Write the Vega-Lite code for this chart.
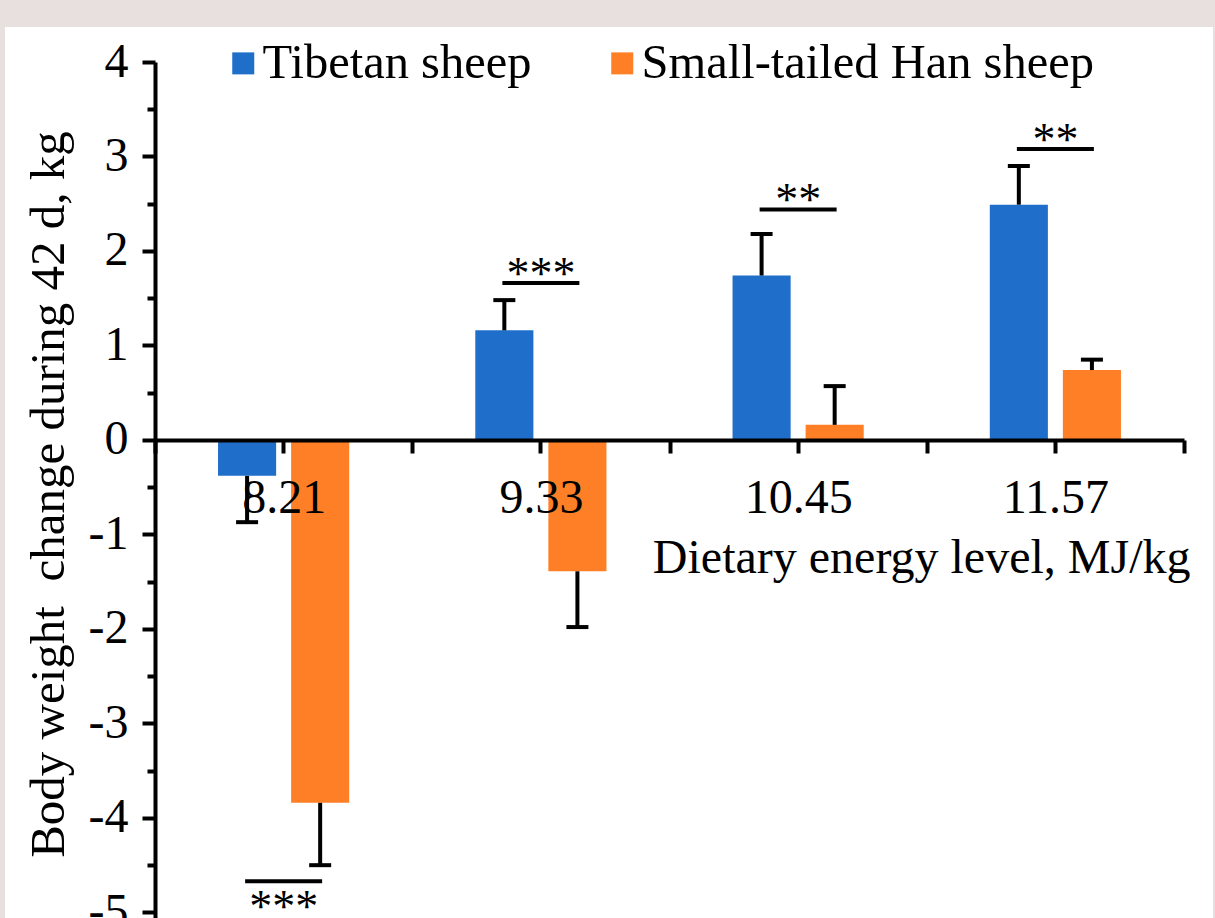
{
  "$schema": "https://vega.github.io/schema/vega-lite/v6.json",
  "width": 1208,
  "height": 891,
  "autosize": {"type": "none"},
  "padding": {"left": 5, "top": 27, "right": 2, "bottom": 0},
  "background": "#E8E0DE",
  "config": {
    "view": {"fill": "white", "stroke": null},
    "font": "Liberation Serif",
    "axis": {
      "labelFont": "Liberation Serif",
      "labelFontSize": 48,
      "labelColor": "black",
      "titleFont": "Liberation Serif",
      "titleFontSize": 48,
      "titleFontWeight": "normal",
      "titleColor": "black",
      "domainColor": "black",
      "domainWidth": 4,
      "tickColor": "black",
      "tickWidth": 4,
      "grid": false
    },
    "legend": {
      "labelFont": "Liberation Serif",
      "labelFontSize": 48.5,
      "labelColor": "black",
      "labelLimit": 0
    }
  },
  "datasets": {
    "bars": [
      {"energy": "8.21", "group": "Tibetan sheep", "mean": -0.38, "err_end": -0.87},
      {"energy": "8.21", "group": "Small-tailed Han sheep", "mean": -3.84, "err_end": -4.5},
      {"energy": "9.33", "group": "Tibetan sheep", "mean": 1.16, "err_end": 1.48},
      {"energy": "9.33", "group": "Small-tailed Han sheep", "mean": -1.39, "err_end": -1.98},
      {"energy": "10.45", "group": "Tibetan sheep", "mean": 1.74, "err_end": 2.18},
      {"energy": "10.45", "group": "Small-tailed Han sheep", "mean": 0.16, "err_end": 0.57},
      {"energy": "11.57", "group": "Tibetan sheep", "mean": 2.49, "err_end": 2.9},
      {"energy": "11.57", "group": "Small-tailed Han sheep", "mean": 0.74, "err_end": 0.85}
    ],
    "sig": [
      {"energy": "8.21", "label": "***", "level": -4.67, "pos": "below"},
      {"energy": "9.33", "label": "***", "level": 1.66, "pos": "above"},
      {"energy": "10.45", "label": "**", "level": 2.44, "pos": "above"},
      {"energy": "11.57", "label": "**", "level": 3.08, "pos": "above"}
    ]
  },
  "resolve": {"axis": {"x": "independent"}},
  "layer": [
    {
      "data": {"name": "bars"},
      "mark": {"type": "bar"},
      "encoding": {
        "x": {
          "field": "energy", "type": "nominal",
          "sort": ["8.21", "9.33", "10.45", "11.57"],
          "scale": {"domain": ["8.21", "9.33", "10.45", "11.57"], "range": [150, 1179], "paddingInner": 0, "paddingOuter": 0},
          "axis": {
            "orient": "bottom", "offset": -478, "tickBand": "extent", "tickSize": 13, "zindex": 1,
            "labelAngle": 0, "labelPadding": 59, "labelBaseline": "alphabetic",
            "title": "Dietary energy level, MJ/kg", "titleX": 1185, "titleY": 132,
            "titleAlign": "right", "titleAnchor": "end", "titleBaseline": "alphabetic"
          }
        },
        "xOffset": {
          "field": "group", "type": "nominal",
          "scale": {"domain": ["Tibetan sheep", "Small-tailed Han sheep"], "paddingInner": 0.205, "paddingOuter": 0.8626}
        },
        "y": {
          "field": "mean", "type": "quantitative",
          "title": "Body weight\u00a0 change during 42 d, kg",
          "scale": {"domain": [-5.059, 4], "range": [891, 35], "nice": false, "zero": false},
          "axis": {
            "offset": -150,
            "values": [-5, -4.5, -4, -3.5, -3, -2.5, -2, -1.5, -1, -0.5, 0, 0.5, 1, 1.5, 2, 2.5, 3, 3.5, 4],
            "labelExpr": "datum.value % 1 === 0 ? '' + datum.value : ''",
            "tickSize": {"condition": {"test": "datum.value % 1 === 0", "value": 13}, "value": 8},
            "labelPadding": 14,
            "labelBaseline": "middle",
            "titleFontSize": 49,
            "titleX": -107, "titleY": 467, "titleBaseline": "middle", "titleAnchor": "middle", "titleAlign": "center"
          }
        },
        "color": {
          "field": "group", "type": "nominal",
          "scale": {"domain": ["Tibetan sheep", "Small-tailed Han sheep"], "range": ["#1F6FCA", "#FF7F27"]},
          "legend": {
            "title": null, "orient": "none", "legendX": 214, "legendY": 12,
            "direction": "horizontal", "symbolType": "square", "symbolSize": 484,
            "symbolStrokeWidth": 0, "symbolOpacity": 1, "labelOffset": -5, "columnPadding": 66, "padding": 0
          }
        }
      }
    },
    {
      "data": {"name": "bars"},
      "mark": {"type": "rule", "color": "black", "strokeWidth": 4},
      "encoding": {
        "x": {
          "field": "energy", "type": "nominal",
          "axis": {"orient": "bottom", "offset": -478, "tickSize": 13, "labels": false, "domain": false, "title": null}
        },
        "xOffset": {"field": "group", "type": "nominal"},
        "y": {"field": "mean", "type": "quantitative", "title": "Body weight\u00a0 change during 42 d, kg"},
        "y2": {"field": "err_end"}
      }
    },
    {
      "data": {"name": "bars"},
      "mark": {"type": "tick", "color": "black", "thickness": 4, "size": 22, "orient": "horizontal", "opacity": 1},
      "encoding": {
        "x": {"field": "energy", "type": "nominal", "axis": null},
        "xOffset": {"field": "group", "type": "nominal"},
        "y": {"field": "err_end", "type": "quantitative", "title": "Body weight\u00a0 change during 42 d, kg"}
      }
    },
    {
      "data": {"name": "sig"},
      "mark": {"type": "tick", "color": "black", "thickness": 4, "size": 77, "orient": "horizontal", "opacity": 1},
      "encoding": {
        "x": {"field": "energy", "type": "nominal", "axis": null},
        "y": {"field": "level", "type": "quantitative", "title": "Body weight\u00a0 change during 42 d, kg"}
      }
    },
    {
      "data": {"name": "sig"},
      "transform": [{"filter": "datum.pos === 'above'"}],
      "mark": {"type": "text", "font": "Liberation Serif", "fontSize": 46, "baseline": "alphabetic", "align": "center", "dy": 6, "color": "black"},
      "encoding": {
        "x": {"field": "energy", "type": "nominal", "axis": null},
        "y": {"field": "level", "type": "quantitative", "title": "Body weight\u00a0 change during 42 d, kg"},
        "text": {"field": "label"}
      }
    },
    {
      "data": {"name": "sig"},
      "transform": [{"filter": "datum.pos === 'below'"}],
      "mark": {"type": "text", "font": "Liberation Serif", "fontSize": 46, "baseline": "alphabetic", "align": "center", "dy": 41, "color": "black"},
      "encoding": {
        "x": {"field": "energy", "type": "nominal", "axis": null},
        "y": {"field": "level", "type": "quantitative", "title": "Body weight\u00a0 change during 42 d, kg"},
        "text": {"field": "label"}
      }
    }
  ]
}
